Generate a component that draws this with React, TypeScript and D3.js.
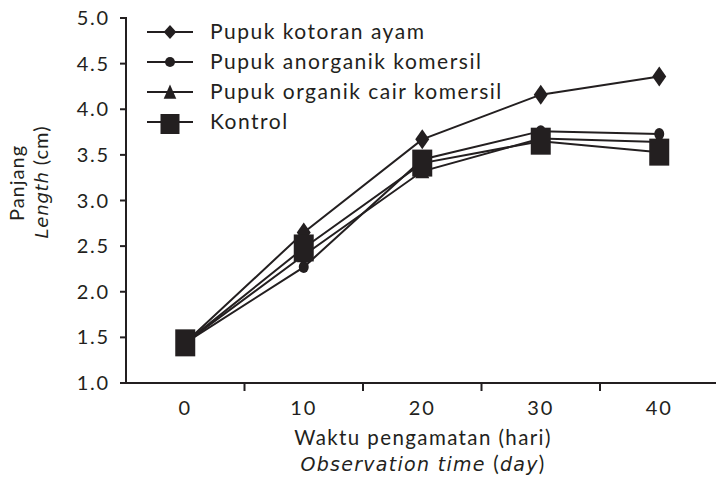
import React from 'react';
import * as d3 from 'd3';

// observation day (category axis)
const days = ['0', '10', '20', '30', '40'];

// series values, length in cm
const kotoranAyam = [1.44, 2.65, 3.67, 4.16, 4.36];
const anorganik = [1.44, 2.27, 3.45, 3.76, 3.73];
const organikCair = [1.44, 2.4, 3.32, 3.68, 3.64];
const kontrol = [1.44, 2.48, 3.41, 3.65, 3.53];

const yTicks = [1.0, 1.5, 2.0, 2.5, 3.0, 3.5, 4.0, 4.5, 5.0];

const seriesNames = [
  'Pupuk kotoran ayam',
  'Pupuk anorganik komersil',
  'Pupuk organik cair komersil',
  'Kontrol',
];

const ink = '#231f20';
const font = 'Lato, "Open Sans", sans-serif';
const italicFont = '"DejaVu Sans", Verdana, sans-serif';

type Shape = 'diamond' | 'circle' | 'triangle' | 'square';

const Marker = ({ shape, x, y, sx = 1, sy = 1 }: { shape: Shape; x: number; y: number; sx?: number; sy?: number }) => {
  let d = '';
  if (shape === 'diamond') d = 'M0,-10L7,0L0,10L-7,0Z';
  if (shape === 'circle') d = 'M-5,0A5,6 0 1,0 5,0A5,6 0 1,0 -5,0Z';
  if (shape === 'triangle') d = 'M0,-8L7,7L-7,7Z';
  if (shape === 'square') d = 'M-10,-13.5H10V13.5H-10Z';
  return <path d={d} transform={`translate(${x},${y}) scale(${sx},${sy})`} fill={ink} />;
};

const App = () => {
  const width = 716;
  const height = 484;
  const margin = { top: 18, left: 126, bottom: 101 };
  const axisBottom = height - margin.bottom;

  const x = d3.scaleBand<string>()
    .domain(days)
    .range([margin.left, margin.left + 118.5 * days.length]);

  const y = d3.scaleLinear()
    .domain([1, 5])
    .range([axisBottom, margin.top]);

  const line = d3.line<number>()
    .x((_, i) => (x(days[i]) as number) + x.bandwidth() / 2)
    .y(d => y(d));

  const series: { name: string; vals: number[]; shape: Shape }[] = [
    { name: seriesNames[0], vals: kotoranAyam, shape: 'diamond' },
    { name: seriesNames[1], vals: anorganik, shape: 'circle' },
    { name: seriesNames[2], vals: organikCair, shape: 'triangle' },
    { name: seriesNames[3], vals: kontrol, shape: 'square' },
  ];

  const legendShapes: { shape: Shape; sx: number; sy: number }[] = [
    { shape: 'diamond', sx: 0.9, sy: 0.7 },
    { shape: 'circle', sx: 1, sy: 0.85 },
    { shape: 'triangle', sx: 0.9, sy: 0.95 },
    { shape: 'square', sx: 0.95, sy: 0.74 },
  ];

  return (
    <svg width={width} height={height} style={{ display: 'block', position: 'absolute', left: 0, top: 0 }}>
      <rect width={width} height={height} fill='white' />

      {/* y axis */}
      <line x1={margin.left} x2={margin.left} y1={margin.top - 1} y2={axisBottom} stroke={ink} strokeWidth={2} />
      {yTicks.map(t => (
        <g key={t}>
          <line x1={margin.left - 6} x2={margin.left} y1={y(t)} y2={y(t)} stroke={ink} strokeWidth={2} />
          <text x={110} y={y(t) + 7} textAnchor='end' fontFamily={font} fontSize={20} letterSpacing={1.8} fill={ink}>
            {d3.format('.1f')(t)}
          </text>
        </g>
      ))}

      {/* x axis */}
      <line x1={margin.left - 1} x2={width} y1={axisBottom} y2={axisBottom} stroke={ink} strokeWidth={2} />
      {days.slice(1).map(d => (
        <line key={d} x1={x(d)} x2={x(d)} y1={axisBottom} y2={axisBottom + 8} stroke={ink} strokeWidth={2} />
      ))}
      {days.map(d => (
        <text key={d} x={(x(d) as number) + x.bandwidth() / 2} y={axisBottom + 32} textAnchor='middle'
          fontFamily={font} fontSize={20} letterSpacing={1.8} fill={ink}>{d}</text>
      ))}

      {/* axis titles */}
      <text x={423} y={445} textAnchor='middle' fontFamily={font} fontSize={20.5} letterSpacing={1.4} fill={ink}>
        Waktu pengamatan (hari)
      </text>
      <text x={423} y={471} textAnchor='middle' fontFamily={italicFont} fontSize={19} letterSpacing={1.3} fill={ink}>
        <tspan fontStyle='italic'>Observation time </tspan>
        <tspan fontFamily={font} fontSize={20.5}>(</tspan>
        <tspan fontStyle='italic'>day</tspan>
        <tspan fontFamily={font} fontSize={20.5}>)</tspan>
      </text>
      <text transform='translate(24,183) rotate(-90)' textAnchor='middle' fontFamily={font} fontSize={20} letterSpacing={1} fill={ink}>
        Panjang
      </text>
      <text transform='translate(48,182) rotate(-90)' textAnchor='middle' fontSize={18} fill={ink}>
        <tspan fontFamily={italicFont} fontStyle='italic' letterSpacing={0.8}>Length</tspan>
        <tspan fontFamily={font} fontSize={20} letterSpacing={1}> (cm)</tspan>
      </text>

      {/* series lines */}
      {series.map(s => (
        <path key={s.name} d={line(s.vals) as string} fill='none' stroke={ink} strokeWidth={2} />
      ))}
      {series.map(s => s.vals.map((v, i) => (
        <Marker key={s.name + i} shape={s.shape} x={(x(days[i]) as number) + x.bandwidth() / 2} y={y(v)} />
      )))}

      {/* legend */}
      {series.map((s, i) => {
        const ly = 32 + i * 30;
        return (
          <g key={s.name}>
            <line x1={147} x2={193} y1={ly} y2={ly} stroke={ink} strokeWidth={2} />
            <Marker shape={legendShapes[i].shape} x={170} y={ly + (i === 3 ? 2 : 0)} sx={legendShapes[i].sx} sy={legendShapes[i].sy} />
            <text x={210} y={ly + 7} fontFamily={font} fontSize={21} letterSpacing={1.5} fill={ink}>{s.name}</text>
          </g>
        );
      })}
    </svg>
  );
};

export default App;
